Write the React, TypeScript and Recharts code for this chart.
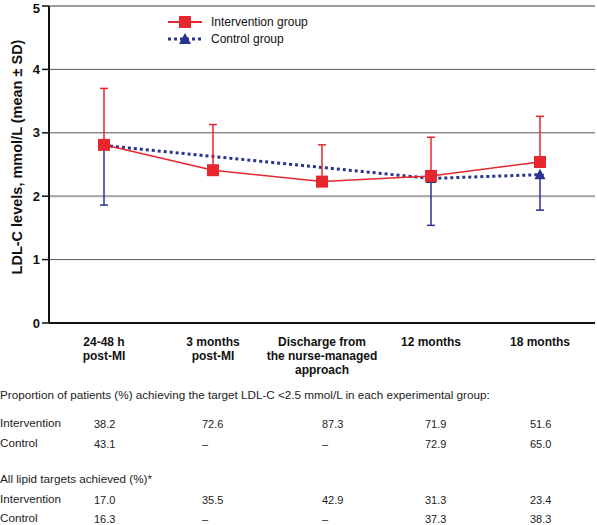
import React from 'react';
import { LineChart, Line, XAxis, YAxis, CartesianGrid, ReferenceLine, ErrorBar, Legend } from 'recharts';

const categories = ['24-48 h\npost-MI', '3 months\npost-MI', 'Discharge from\nthe nurse-managed\napproach', '12 months', '18 months'];
const interventionMean = [2.81, 2.41, 2.23, 2.32, 2.54];
const interventionSdUp = [0.89, 0.72, 0.58, 0.61, 0.72];
const controlMean: (number | null)[] = [2.8, null, null, 2.28, 2.34];
const controlSdDown: (number | null)[] = [0.94, null, null, 0.74, 0.56];
const yTicks = [0, 1, 2, 3, 4, 5];

const tableTitle1 = 'Proportion of patients (%) achieving the target LDL-C <2.5 mmol/L in each experimental group:';
const tableTitle2 = 'All lipid targets achieved (%)*';
const rowLabels = ['Intervention', 'Control'];
const targetIntervention = ['38.2', '72.6', '87.3', '71.9', '51.6'];
const targetControl = ['43.1', '–', '–', '72.9', '65.0'];
const allIntervention = ['17.0', '35.5', '42.9', '31.3', '23.4'];
const allControl = ['16.3', '–', '–', '37.3', '38.3'];

const RED = '#e8262d';
const NAVY = '#2b3390';
const FONT = '"Liberation Sans", Arial, Helvetica, sans-serif';

const data = categories.map((c, i) => ({
  name: c,
  int: interventionMean[i],
  intErr: [0, interventionSdUp[i]],
  ctrl: controlMean[i],
  ctrlErr: controlSdDown[i] == null ? null : [controlSdDown[i], 0],
}));

const Square = (props: any) => {
  const { cx, cy } = props;
  if (cx == null || cy == null) return null;
  return <rect x={cx - 6} y={cy - 6} width={12} height={12} fill={RED} />;
};
const Triangle = (props: any) => {
  const { cx, cy, payload } = props;
  if (cx == null || cy == null || payload?.ctrl == null) return null;
  return <path d={`M${cx},${cy - 6} L${cx + 5.5},${cy + 4.5} L${cx - 5.5},${cy + 4.5} Z`} fill={NAVY} />;
};

const XTick = (props: any) => {
  const { x, y, payload } = props;
  const lines = String(payload.value).split('\n');
  return (
    <text x={x} y={y} textAnchor="middle" fontFamily={FONT} fontWeight="bold" fontSize={12} fill="#111">
      {lines.map((l, i) => (
        <tspan key={i} x={x} dy={i === 0 ? 15 : 14}>{l}</tspan>
      ))}
    </text>
  );
};

const LegendContent = () => (
  <svg width={160} height={36} style={{ display: 'block' }}>
    <line x1={2} y1={9} x2={36} y2={9} stroke={RED} strokeWidth={2} />
    <rect x={13} y={3} width={12} height={12} fill={RED} />
    <text x={45} y={13} fontFamily={FONT} fontSize={12} fill="#111">Intervention group</text>
    <line x1={2} y1={26} x2={36} y2={26} stroke={NAVY} strokeWidth={3} strokeDasharray="3 3" />
    <path d="M19,20 L25,31 L13,31 Z" fill={NAVY} />
    <text x={45} y={30} fontFamily={FONT} fontSize={12} fill="#111">Control group</text>
  </svg>
);

const colX = [94, 202, 322, 425, 530];
const TXT = 11.7;

const Row = ({ top, label, values }: { top: number; label: string; values: string[] }) => (
  <>
    <div style={{ position: 'absolute', left: 0, top, fontSize: TXT, lineHeight: '14px', color: '#222' }}>{label}</div>
    {values.map((v, i) => (
      <div key={i} style={{ position: 'absolute', left: colX[i], top: top + 1, fontSize: 11, lineHeight: '14px', color: '#222' }}>{v}</div>
    ))}
  </>
);

export default function App() {
  return (
    <div style={{ position: 'absolute', left: 0, top: 0, width: 597, height: 525, background: '#fff', fontFamily: FONT, overflow: 'hidden' }}>
      <LineChart width={597} height={390} data={data} margin={{ top: 6, right: 2, left: 0, bottom: 0 }}>
        <CartesianGrid vertical={false} stroke="#555" strokeWidth={1} />
        <ReferenceLine y={2} stroke="#aaa" strokeWidth={2} />
        <ReferenceLine y={5} stroke="#999" strokeWidth={1.5} />
        <XAxis
          dataKey="name"
          interval={0}
          height={67}
          padding={{ left: 55, right: 55 }}
          tickLine={false}
          axisLine={{ stroke: '#111', strokeWidth: 2 }}
          tick={<XTick />}
        />
        <YAxis
          domain={[0, 5]}
          ticks={yTicks}
          width={49}
          tickSize={7}
          tickLine={{ stroke: '#111', strokeWidth: 1.5 }}
          axisLine={{ stroke: '#111', strokeWidth: 2 }}
          tick={{ fontFamily: FONT, fontWeight: 'bold', fontSize: 13, fill: '#111' }}
          label={{
            content: () => (
              <text x={17} y={157} transform="rotate(-90 17 157)" textAnchor="middle" dominantBaseline="central" fontFamily={FONT} fontWeight="bold" fontSize={14.5} fill="#111">
                LDL-C levels, mmol/L (mean ± SD)
              </text>
            ),
          }}
        />
        <YAxis yAxisId="right" orientation="right" width={0} domain={[0, 5]} tick={false} tickLine={false} axisLine={{ stroke: '#222', strokeWidth: 2 }} />
        <Legend
          layout="vertical"
          align="center"
          verticalAlign="middle"
          content={<LegendContent />}
          wrapperStyle={{ position: 'absolute', left: 166, top: 13, width: 160 }}
        />
        <Line
          dataKey="ctrl"
          stroke={NAVY}
          strokeWidth={3}
          strokeDasharray="3 3"
          connectNulls
          dot={<Triangle />}
          activeDot={false}
          isAnimationActive={false}
        >
          <ErrorBar dataKey="ctrlErr" width={4} stroke={NAVY} strokeWidth={1.5} direction="y" />
        </Line>
        <Line
          dataKey="int"
          stroke={RED}
          strokeWidth={1.5}
          dot={<Square />}
          activeDot={false}
          isAnimationActive={false}
        >
          <ErrorBar dataKey="intErr" width={4} stroke={RED} strokeWidth={1.5} direction="y" />
        </Line>
      </LineChart>
      <div style={{ position: 'absolute', left: 0, top: 388, fontSize: TXT, lineHeight: '14px', color: '#222' }}>{tableTitle1}</div>
      <Row top={416} label={rowLabels[0]} values={targetIntervention} />
      <Row top={436} label={rowLabels[1]} values={targetControl} />
      <div style={{ position: 'absolute', left: 0, top: 472, fontSize: TXT, lineHeight: '14px', color: '#222' }}>{tableTitle2}</div>
      <Row top={492} label={rowLabels[0]} values={allIntervention} />
      <Row top={511} label={rowLabels[1]} values={allControl} />
    </div>
  );
}
